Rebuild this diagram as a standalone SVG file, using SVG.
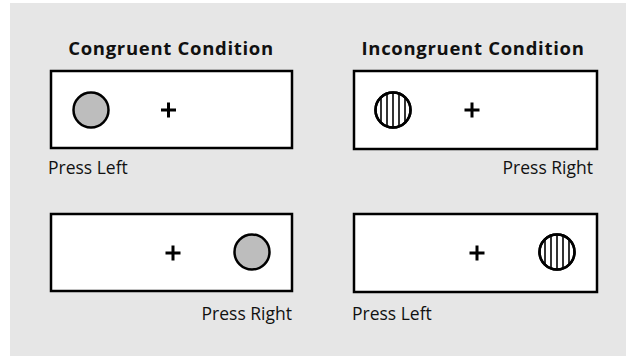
<svg xmlns="http://www.w3.org/2000/svg" width="626" height="356" viewBox="0 0 626 356">
<style>
.bg{fill:#e6e6e6}
.box{fill:#ffffff;stroke:#000;stroke-width:2.5}
.title{font-family:"Open Sans","Liberation Sans",sans-serif;font-weight:bold;font-size:18.5px;letter-spacing:0.7px;fill:#111;text-anchor:middle}
.lbl{font-family:"Open Sans","Liberation Sans",sans-serif;font-size:17.5px;fill:#111}
.gray{fill:#bdbdbd;stroke:#000;stroke-width:2.5}
.ring{fill:#fff;stroke:#000;stroke-width:2.5}
.stripe{stroke:#000;stroke-width:1.6}
.plus{stroke:#000;stroke-width:3;fill:none}
</style>
<defs>
<clipPath id="c"><circle cx="0" cy="0" r="17.5"/></clipPath>
<g id="striped">
<circle class="ring" cx="0" cy="0" r="17.5"/>
<g clip-path="url(#c)">
<line class="stripe" x1="-12" y1="-20" x2="-12" y2="20"/>
<line class="stripe" x1="-6" y1="-20" x2="-6" y2="20"/>
<line class="stripe" x1="0" y1="-20" x2="0" y2="20"/>
<line class="stripe" x1="6" y1="-20" x2="6" y2="20"/>
<line class="stripe" x1="12" y1="-20" x2="12" y2="20"/>
</g>
<circle cx="0" cy="0" r="17.5" fill="none" stroke="#000" stroke-width="2.5"/>
</g>
<path id="plus" class="plus" d="M-7.5 0H7.5M0 -7.5V7.5"/>
</defs>
<rect class="bg" x="10" y="3" width="616" height="353"/>
<text class="title" x="171" y="55">Congruent Condition</text>
<text class="title" x="473" y="55">Incongruent Condition</text>
<g id="panel-congruent-left">
<rect class="box" x="51" y="71" width="241" height="77"/>
<circle class="gray" cx="91" cy="110" r="17.5"/>
<use href="#plus" x="168.5" y="110"/>
<text class="lbl" x="48" y="174">Press Left</text>
</g>
<g id="panel-incongruent-right">
<rect class="box" x="354" y="71" width="243" height="78"/>
<use href="#striped" x="393" y="110"/>
<use href="#plus" x="472" y="110"/>
<text class="lbl" x="593" y="174" text-anchor="end">Press Right</text>
</g>
<g id="panel-congruent-right">
<rect class="box" x="51" y="214" width="241" height="77"/>
<use href="#plus" x="173" y="253"/>
<circle class="gray" cx="252" cy="252" r="17.5"/>
<text class="lbl" x="292" y="320" text-anchor="end">Press Right</text>
</g>
<g id="panel-incongruent-left">
<rect class="box" x="354" y="214" width="243" height="78"/>
<use href="#plus" x="477" y="253"/>
<use href="#striped" x="557" y="252"/>
<text class="lbl" x="352" y="320">Press Left</text>
</g>
<g id="connectors"/>
</svg>
